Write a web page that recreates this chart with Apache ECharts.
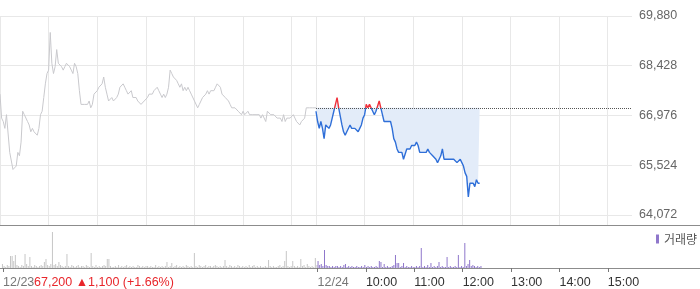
<!DOCTYPE html>
<html><head><meta charset="utf-8">
<script src="https://cdn.jsdelivr.net/npm/echarts@6/dist/echarts.min.js"></script>
<style>html,body{margin:0;padding:0;background:#fff}#c{width:700px;height:289px}</style>
</head><body><div id="c"></div>
<script>
// ---- data (sampled every 2 minutes from 09:00) ----
const day1Price = [
67600,66900,66800,66600,67000,67000,65900,65900,65400,65400,
65500,65900,65800,66200,67100,67000,67000,66800,66700,66500,
66600,66500,66500,66400,66600,67000,67100,67500,67900,68200,
68300,69400,68500,68200,68400,68900,68500,68500,68400,68300,
68400,68500,68500,68400,68300,68200,68500,68400,68200,67700,
67300,67300,67300,67300,67300,67400,67200,67300,67600,67600,
67700,67800,67800,67900,68100,67800,67600,67400,67400,67500,
67400,67400,67500,67600,67800,67800,67900,67800,67700,67600,
67600,67700,67500,67500,67500,67400,67400,67300,67300,67400,
67400,67500,67600,67600,67600,67700,67700,67800,67700,67600,
67500,67600,67500,67600,67800,68300,68200,68100,68100,68000,
67900,67800,67900,67700,67800,67700,67800,67700,67600,67600,
67400,67400,67200,67300,67400,67500,67500,67600,67700,67600,
67700,67700,67700,67800,67900,67900,67800,67600,67600,67500,
67500,67400,67300,67200,67200,67200,67200,67100,67100,67000,
67100,67000,67000,67100,67000,67000,67000,67000,67000,67000,
67000,66900,67000,67000,66800,67100,67100,67000,67000,67000,
67000,66900,66900,66900,66800,67000,66800,66900,66900,66900,
66900,67000,66900,66800,66800,66700,66800,66800,66900,67200,
67200,67200,67200,67200,67200,67200
];
const day2Price = [
67100,66800,66600,66800,66600,66300,66700,66700,66600,66700,
66900,67100,67300,67500,67200,67200,66700,66500,66400,66500,
66500,66700,66600,66600,66600,66600,66500,66600,66700,66900,
67000,67300,67200,67300,67200,67100,67000,67100,67100,67400,
67200,67000,66800,66800,66800,66800,66800,66600,66300,66200,
66000,65900,65900,65900,65700,65700,66000,66000,66000,66100,
66100,66100,66200,66100,65900,65900,65900,65900,65900,66000,
65900,65900,65800,65800,65700,65600,65700,65800,66000,65700,
65700,65700,65700,65700,65700,65700,65700,65600,65600,65700,
65600,65500,65300,65200,64600,65000,65000,65000,64900,65100,
65000,65000
];
const day1Vol = [
4,2,1,3,2,12,12,7,13,3,
2,1,3,2,14,4,2,11,2,1,
3,2,1,2,3,2,6,9,3,2,
4,36,3,4,2,6,3,2,1,2,
14,2,1,3,2,1,2,3,1,2,
2,1,3,2,1,15,2,1,3,1,
2,1,2,3,2,9,9,2,1,1,
2,1,3,1,2,1,2,3,1,2,
1,2,1,1,3,2,1,2,1,2,
2,1,2,1,1,3,1,2,1,2,
1,2,6,1,2,5,1,2,3,1,
2,1,2,1,3,2,1,2,1,15,
2,1,3,2,1,2,3,1,2,2,
1,2,3,2,1,2,1,2,8,2,
1,3,2,1,2,1,3,2,1,2,
1,2,1,3,1,2,3,1,2,1,
2,1,1,2,1,8,2,1,2,1,
1,2,3,1,2,7,17,2,1,2,
7,2,1,2,1,9,2,3,1,4,
2,1,2,1,10,3
];
const day2Vol = [
7,3,4,2,18,3,2,2,1,2,
1,2,2,1,2,1,3,4,1,2,
1,2,1,1,2,1,1,2,1,3,
1,2,1,2,1,1,2,1,7,6,
1,4,1,2,1,1,2,3,13,5,
5,1,2,5,1,2,1,1,2,1,
1,2,1,2,20,1,2,1,3,1,
5,1,2,1,2,6,1,2,1,1,
11,1,2,1,1,2,1,13,1,2,
1,25,2,4,8,2,3,2,1,2,
1,2
];
const prevClose = 67200;
const priceTicks = [64072, 65524, 66976, 68428, 69880];
const gridMinutes = [0, 60, 120, 180, 240, 300, 360, 390, 450, 510, 570, 630, 690, 750];
const timeTicks = [0, 390, 450, 510, 570, 630, 690, 750];
const timeLabels = ['12/23', '12/24', '10:00', '11:00', '12:00', '13:00', '14:00', '15:00'];
const infoText = '67,200 \u25B21,100 (+1.66%)';
const volName = '거래량';
const SESSION = 390, STEP = 2;
const PMIN = 63780, PMAX = 69880;

const d1 = day1Price.map((v, i) => [i * STEP, v]);
const d2 = day2Price.map((v, j) => [SESSION + j * STEP, v]);
const v1 = day1Vol.map((v, i) => [i * STEP, v]);
const v2 = day2Vol.map((v, j) => [SESSION + j * STEP, v]);
const fmt = v => String(v).replace(/\B(?=(\d{3})+(?!\d))/g, ',');
const FONT = '"Liberation Sans", Arial, sans-serif';

const chart = echarts.init(document.getElementById('c'), null, {renderer: 'canvas'});
chart.setOption({
  animation: false,
  textStyle: {fontFamily: FONT},
  grid: [
    {left: 0, top: 16, width: 632, height: 209},
    {left: 0, top: 228, width: 632, height: 40}
  ],
  xAxis: [
    {gridIndex: 0, type: 'value', min: 0, max: 780,
     axisLine: {show: false}, axisTick: {show: false, customValues: gridMinutes},
     axisLabel: {show: false, customValues: gridMinutes},
     splitLine: {show: true, lineStyle: {color: '#e8e8e8', width: 1}}},
    {gridIndex: 1, type: 'value', min: 0, max: 780,
     axisLine: {show: false},
     axisTick: {show: true, customValues: timeTicks, length: 4, lineStyle: {color: '#777'}},
     axisLabel: {customValues: timeTicks, align: 'left', margin: 8,
       formatter: v => { const k = timeTicks.indexOf(v); const s = timeLabels[k]; return (k < 2 ? '{d|' : '{t|') + s + '}'; },
       rich: {d: {color: '#777', fontSize: 12.5, fontFamily: FONT}, t: {color: '#333', fontSize: 12.5, fontFamily: FONT}}},
     splitLine: {show: false}}
  ],
  yAxis: [
    {gridIndex: 0, type: 'value', position: 'right', min: PMIN, max: PMAX,
     axisLine: {show: false}, axisTick: {show: false, customValues: priceTicks},
     axisLabel: {customValues: priceTicks, formatter: fmt, margin: 7, align: 'left', color: '#666', fontSize: 12.5, fontFamily: FONT},
     splitLine: {show: true, lineStyle: {color: '#e8e8e8', width: 1}}},
    {gridIndex: 1, type: 'value', min: 0, max: 40, show: false}
  ],
  visualMap: {show: false, type: 'piecewise', seriesIndex: 1, dimension: 1,
    pieces: [{gt: prevClose, lte: PMAX, color: '#f0303a'}, {gte: PMIN, lte: prevClose, color: '#2f6fd8'}]},
  legend: {data: [volName], left: 651, top: 228, icon: 'rect', itemWidth: 3, itemHeight: 9, itemGap: 4,
    textStyle: {color: '#555', fontSize: 12, fontFamily: '"Noto Sans CJK KR", sans-serif'}},
  series: [
    {type: 'line', xAxisIndex: 0, yAxisIndex: 0, data: d1, symbol: 'none', silent: true,
     lineStyle: {color: '#c9c9cd', width: 1}},
    {type: 'line', xAxisIndex: 0, yAxisIndex: 0, data: d2, symbol: 'none', silent: true,
     lineStyle: {width: 1.4},
     areaStyle: {origin: prevClose, color: '#e3ecf9', opacity: 1},
     markLine: {silent: true, symbol: ['none', 'none'], label: {show: false},
       lineStyle: {type: 'dotted', color: '#555', width: 1},
       data: [[{coord: [SESSION, prevClose]}, {coord: [780, prevClose]}]]}},
    {type: 'bar', xAxisIndex: 1, yAxisIndex: 1, data: v1, barWidth: 1, silent: true,
     itemStyle: {color: '#c6c6c6'}},
    {type: 'bar', name: volName, xAxisIndex: 1, yAxisIndex: 1, data: v2, barWidth: 1, silent: true,
     itemStyle: {color: '#8f77cb'}}
  ],
  graphic: [
    {type: 'line', shape: {x1: 0, y1: 225.5, x2: 700, y2: 225.5}, style: {stroke: '#8c8c8c', lineWidth: 1}, silent: true},
    {type: 'line', shape: {x1: 0, y1: 268.5, x2: 700, y2: 268.5}, style: {stroke: '#8c8c8c', lineWidth: 1}, silent: true},
    {type: 'text', left: 34, top: 276, style: {text: infoText, fill: '#e8262b', font: '12.5px ' + FONT}, silent: true}
  ]
});
</script></body></html>
